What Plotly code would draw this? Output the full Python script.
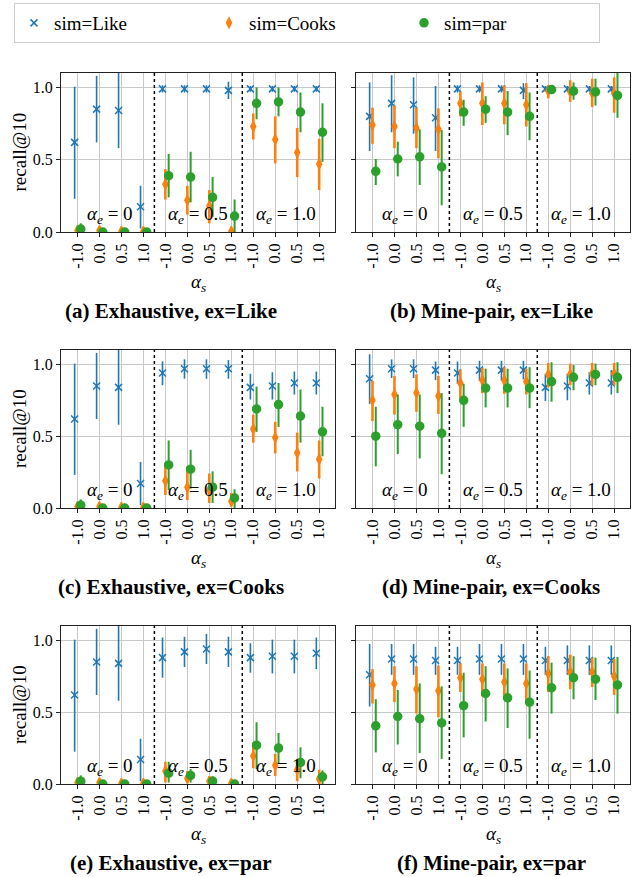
import plotly.graph_objects as go

W, H = 641, 877
FONT = "Liberation Serif, Times New Roman, serif"

# ---------------- data ----------------
alpha_s_labels = ["-1.0", "0.0", "0.5", "1.0"] * 3
alpha_e_labels = ["0", "0.5", "1.0"]
series_names = ["sim=Like", "sim=Cooks", "sim=par"]
series_colors = ["#1f77b4", "#ff7f0e", "#2ca02c"]
panel_titles = ["(a) Exhaustive, ex=Like", "(b) Mine-pair, ex=Like",
                "(c) Exhaustive, ex=Cooks", "(d) Mine-pair, ex=Cooks",
                "(e) Exhaustive, ex=par", "(f) Mine-pair, ex=par"]

# panel (a)
a_like = [0.62, 0.85, 0.84, 0.175, 0.99, 0.99, 0.99, 0.98, 0.99, 0.99, 0.99, 0.99]
a_like_lo = [0.23, 0.62, 0.58, 0.025, 0.965, 0.965, 0.965, 0.92, 0.97, 0.97, 0.97, 0.97]
a_like_hi = [1.005, 1.08, 1.15, 0.32, 1.015, 1.015, 1.015, 1.04, 1.01, 1.01, 1.01, 1.01]
a_cooks = [0.01, 0.01, 0.005, 0.005, 0.33, 0.22, 0.18, 0.005, 0.73, 0.64, 0.55, 0.47]
a_cooks_lo = [0, 0, 0, 0, 0.225, 0.12, 0.06, 0, 0.64, 0.475, 0.38, 0.29]
a_cooks_hi = [0.03, 0.03, 0.02, 0.02, 0.435, 0.32, 0.29, 0.02, 0.82, 0.80, 0.72, 0.645]
a_par = [0.02, 0.0, 0.0, 0.0, 0.39, 0.38, 0.24, 0.11, 0.89, 0.90, 0.83, 0.69]
a_par_lo = [0, 0, 0, 0, 0.24, 0.205, 0.105, 0.0, 0.78, 0.80, 0.69, 0.485]
a_par_hi = [0.06, 0.01, 0.01, 0.01, 0.54, 0.555, 0.38, 0.225, 1.0, 1.0, 0.965, 0.89]

# panel (b)
b_like = [0.80, 0.89, 0.88, 0.79, 0.99, 0.99, 0.99, 0.98, 0.99, 0.99, 0.99, 0.99]
b_like_lo = [0.56, 0.69, 0.68, 0.56, 0.965, 0.965, 0.965, 0.92, 0.97, 0.97, 0.97, 0.97]
b_like_hi = [1.035, 1.085, 1.07, 1.01, 1.015, 1.015, 1.015, 1.03, 1.01, 1.01, 1.01, 1.01]
b_cooks = [0.74, 0.73, 0.72, 0.71, 0.89, 0.89, 0.89, 0.88, 0.975, 0.97, 0.96, 0.96]
b_cooks_lo = [0.61, 0.58, 0.58, 0.51, 0.80, 0.74, 0.745, 0.73, 0.925, 0.90, 0.865, 0.825]
b_cooks_hi = [0.86, 0.875, 0.86, 0.855, 0.97, 1.035, 1.015, 1.03, 1.015, 1.05, 1.06, 1.07]
b_par = [0.42, 0.505, 0.52, 0.45, 0.83, 0.85, 0.83, 0.80, 0.985, 0.975, 0.97, 0.945]
b_par_lo = [0.325, 0.385, 0.325, 0.185, 0.735, 0.755, 0.67, 0.635, 0.97, 0.915, 0.875, 0.79]
b_par_hi = [0.505, 0.625, 0.71, 0.705, 0.915, 0.94, 0.975, 0.965, 1.005, 1.035, 1.06, 1.12]

# panel (c)
c_like = [0.62, 0.85, 0.84, 0.17, 0.94, 0.97, 0.97, 0.97, 0.84, 0.85, 0.87, 0.87]
c_like_lo = [0.23, 0.62, 0.58, 0.02, 0.855, 0.90, 0.90, 0.90, 0.755, 0.755, 0.79, 0.79]
c_like_hi = [1.005, 1.08, 1.15, 0.32, 1.02, 1.035, 1.035, 1.03, 0.935, 0.945, 0.95, 0.95]
c_cooks = [0.01, 0.01, 0.005, 0.005, 0.19, 0.145, 0.125, 0.045, 0.55, 0.49, 0.385, 0.34]
c_cooks_lo = [0, 0, 0, 0, 0.09, 0.055, 0.035, 0.01, 0.455, 0.38, 0.255, 0.205]
c_cooks_hi = [0.03, 0.03, 0.02, 0.02, 0.315, 0.29, 0.24, 0.105, 0.65, 0.60, 0.525, 0.47]
c_par = [0.02, 0, 0, 0, 0.30, 0.27, 0.145, 0.07, 0.69, 0.72, 0.64, 0.53]
c_par_lo = [0, 0, 0, 0, 0.125, 0.135, 0.035, 0.0, 0.53, 0.565, 0.455, 0.36]
c_par_hi = [0.06, 0.01, 0.01, 0.01, 0.47, 0.405, 0.255, 0.13, 0.845, 0.87, 0.825, 0.705]

# panel (d)
d_like = [0.90, 0.97, 0.97, 0.96, 0.94, 0.96, 0.96, 0.96, 0.84, 0.85, 0.87, 0.87]
d_like_lo = [0.725, 0.905, 0.905, 0.89, 0.865, 0.885, 0.885, 0.895, 0.745, 0.75, 0.79, 0.79]
d_like_hi = [1.07, 1.035, 1.035, 1.02, 1.02, 1.025, 1.025, 1.025, 0.935, 0.935, 0.945, 0.96]
d_cooks = [0.75, 0.79, 0.80, 0.78, 0.87, 0.89, 0.89, 0.88, 0.93, 0.93, 0.935, 0.935]
d_cooks_lo = [0.605, 0.65, 0.67, 0.655, 0.765, 0.80, 0.795, 0.79, 0.84, 0.855, 0.855, 0.855]
d_cooks_hi = [0.885, 0.92, 0.93, 0.92, 0.965, 0.975, 0.98, 0.97, 1.01, 1.005, 1.01, 1.01]
d_par = [0.50, 0.58, 0.57, 0.52, 0.75, 0.835, 0.835, 0.835, 0.88, 0.91, 0.93, 0.91]
d_par_lo = [0.29, 0.375, 0.345, 0.235, 0.565, 0.70, 0.70, 0.695, 0.74, 0.82, 0.855, 0.80]
d_par_hi = [0.705, 0.79, 0.79, 0.80, 0.865, 0.97, 0.97, 0.98, 1.015, 0.995, 1.005, 1.015]

# panel (e)
e_like = [0.62, 0.85, 0.84, 0.17, 0.88, 0.92, 0.94, 0.92, 0.88, 0.89, 0.89, 0.91]
e_like_lo = [0.225, 0.62, 0.58, 0.02, 0.74, 0.815, 0.835, 0.815, 0.775, 0.77, 0.77, 0.80]
e_like_hi = [1.005, 1.08, 1.15, 0.315, 1.02, 1.025, 1.045, 1.025, 0.98, 1.005, 1.005, 1.02]
e_cooks = [0.01, 0.01, 0.005, 0.005, 0.09, 0.04, 0.02, 0.005, 0.195, 0.13, 0.10, 0.035]
e_cooks_lo = [0, 0, 0, 0, 0.01, 0.005, 0, 0, 0.11, 0.055, 0.02, 0]
e_cooks_hi = [0.03, 0.03, 0.02, 0.02, 0.155, 0.09, 0.055, 0.015, 0.29, 0.21, 0.175, 0.10]
e_par = [0.02, 0, 0, 0, 0.075, 0.06, 0.02, 0.0, 0.27, 0.25, 0.15, 0.05]
e_par_lo = [0, 0, 0, 0, 0.01, 0.01, 0, 0, 0.105, 0.14, 0.04, 0]
e_par_hi = [0.06, 0.01, 0.01, 0.01, 0.155, 0.105, 0.055, 0.01, 0.43, 0.355, 0.255, 0.095]

# panel (f)
f_like = [0.76, 0.87, 0.87, 0.86, 0.86, 0.87, 0.87, 0.87, 0.86, 0.86, 0.86, 0.86]
f_like_lo = [0.54, 0.76, 0.76, 0.76, 0.76, 0.76, 0.76, 0.76, 0.76, 0.76, 0.76, 0.76]
f_like_hi = [0.975, 0.975, 0.975, 0.955, 0.955, 0.975, 0.975, 0.975, 0.955, 0.965, 0.965, 0.965]
f_cooks = [0.69, 0.70, 0.66, 0.65, 0.74, 0.73, 0.71, 0.70, 0.77, 0.78, 0.78, 0.75]
f_cooks_lo = [0.56, 0.57, 0.49, 0.465, 0.64, 0.61, 0.585, 0.58, 0.64, 0.66, 0.675, 0.62]
f_cooks_hi = [0.80, 0.82, 0.82, 0.825, 0.84, 0.84, 0.84, 0.84, 0.89, 0.90, 0.88, 0.87]
f_par = [0.405, 0.47, 0.455, 0.425, 0.545, 0.63, 0.60, 0.57, 0.67, 0.74, 0.73, 0.69]
f_par_lo = [0.22, 0.275, 0.215, 0.175, 0.325, 0.435, 0.39, 0.315, 0.49, 0.59, 0.585, 0.49]
f_par_hi = [0.59, 0.655, 0.70, 0.68, 0.775, 0.82, 0.805, 0.79, 0.845, 0.89, 0.88, 0.885]

panels = [
    [(a_like, a_like_lo, a_like_hi), (a_cooks, a_cooks_lo, a_cooks_hi), (a_par, a_par_lo, a_par_hi)],
    [(b_like, b_like_lo, b_like_hi), (b_cooks, b_cooks_lo, b_cooks_hi), (b_par, b_par_lo, b_par_hi)],
    [(c_like, c_like_lo, c_like_hi), (c_cooks, c_cooks_lo, c_cooks_hi), (c_par, c_par_lo, c_par_hi)],
    [(d_like, d_like_lo, d_like_hi), (d_cooks, d_cooks_lo, d_cooks_hi), (d_par, d_par_lo, d_par_hi)],
    [(e_like, e_like_lo, e_like_hi), (e_cooks, e_cooks_lo, e_cooks_hi), (e_par, e_par_lo, e_par_hi)],
    [(f_like, f_like_lo, f_like_hi), (f_cooks, f_cooks_lo, f_cooks_hi), (f_par, f_par_lo, f_par_hi)],
]

# ---------------- style ----------------
dodge = [-0.13, 0.0, 0.15]
symbols = ["x-thin", "diamond-tall", "circle"]
msizes = [7, 7, 8]
ethick = [1.6, 2.6, 2.0]

# pixel layout
col_x = [(61, 335), (356, 630)]
row_y = [(73, 232), (350, 508), (626, 784)]
cap_x = [171, 491]

fig = go.Figure()
layout = dict(
    template="none",
    width=W, height=H, margin=dict(l=0, r=0, t=0, b=0),
    paper_bgcolor="white", plot_bgcolor="white",
    font=dict(family=FONT, size=16, color="black"),
    showlegend=True,
)
annotations = []
shapes = []
n = len(alpha_s_labels)
xs = list(range(n))

for p in range(6):
    r, c = divmod(p, 2)
    idx = p + 1
    xa = "x" if idx == 1 else f"x{idx}"
    ya = "y" if idx == 1 else f"y{idx}"
    xkey = "xaxis" if idx == 1 else f"xaxis{idx}"
    ykey = "yaxis" if idx == 1 else f"yaxis{idx}"
    x0, x1 = col_x[c]
    y0, y1 = row_y[r]
    layout[xkey] = dict(
        domain=[x0 / W, x1 / W], anchor=ya, range=[-0.75, 11.72],
        tickmode="array", tickvals=xs, ticktext=alpha_s_labels, tickangle=-90,
        showgrid=True, gridcolor="#c8c8c8", gridwidth=1,
        showline=True, linecolor="#222", linewidth=1, mirror=True,
        ticks="outside", ticklen=4, tickcolor="#222", zeroline=False,
        tickfont=dict(size=16, family=FONT, color="black"),
    )
    layout[ykey] = dict(
        domain=[(H - y1) / H, (H - y0) / H], anchor=xa, range=[0, 1.1],
        tickmode="array", tickvals=[0, 0.5, 1.0], ticktext=["0.0", "0.5", "1.0"],
        showticklabels=(c == 0),
        showgrid=True, gridcolor="#c8c8c8", gridwidth=1,
        showline=True, linecolor="#222", linewidth=1, mirror=True,
        ticks="outside", ticklen=4, tickcolor="#222", zeroline=False,
        tickfont=dict(size=16, family=FONT, color="black"),
    )
    for s, (mean, lo, hi) in enumerate(panels[p]):
        fig.add_trace(go.Scatter(
            x=[i + dodge[s] for i in xs], y=mean,
            mode="markers", name=series_names[s],
            legendgroup=series_names[s], showlegend=(p == 0),
            xaxis=xa, yaxis=ya,
            marker=dict(symbol=symbols[s], size=msizes[s], color=series_colors[s],
                        line=dict(width=1.5, color=series_colors[s])),
            error_y=dict(type="data", symmetric=False,
                         array=[h - m for h, m in zip(hi, mean)],
                         arrayminus=[m - l for m, l in zip(mean, lo)],
                         color=series_colors[s], thickness=ethick[s], width=0),
        ))
    for sep in (3.5, 7.5):
        shapes.append(dict(type="line", xref=xa, yref=f"{ya} domain",
                           x0=sep, x1=sep, y0=0, y1=1,
                           line=dict(color="black", width=1.5, dash="dot")))
    for g, lab in enumerate(alpha_e_labels):
        annotations.append(dict(
            x=1.5 + 4 * g, y=0.115, xref=xa, yref=ya, showarrow=False,
            text=f"<i>α</i><sub><i>e</i></sub> = {lab}",
            font=dict(size=19, family=FONT), xanchor="center", yanchor="middle"))
    # x-axis title
    annotations.append(dict(
        x=(x0 + x1) / 2 / W, y=(H - (y1 + 51)) / H, xref="paper", yref="paper",
        text="<i>α</i><sub><i>s</i></sub>", showarrow=False,
        font=dict(size=19, family=FONT), xanchor="center", yanchor="middle"))
    # caption
    annotations.append(dict(
        x=cap_x[c] / W, y=(H - (y1 + 79)) / H, xref="paper", yref="paper",
        text=f"<b>{panel_titles[p]}</b>", showarrow=False,
        font=dict(size=21, family=FONT), xanchor="center", yanchor="middle"))
    if c == 0:
        annotations.append(dict(
            x=19 / W, y=(H - (y0 + y1) / 2) / H, xref="paper", yref="paper",
            text="recall@10", textangle=-90, showarrow=False,
            font=dict(size=19, family=FONT), xanchor="center", yanchor="middle"))

layout["annotations"] = annotations
layout["shapes"] = shapes
layout["legend"] = dict(
    orientation="h", x=14 / W, y=1 - 3 / H, xanchor="left", yanchor="top",
    bordercolor="#cccccc", borderwidth=1, bgcolor="white",
    font=dict(size=19, family=FONT, color="black"),
    entrywidth=150, entrywidthmode="pixels",
)
fig.update_layout(**layout)
fig.write_html("out.html")
